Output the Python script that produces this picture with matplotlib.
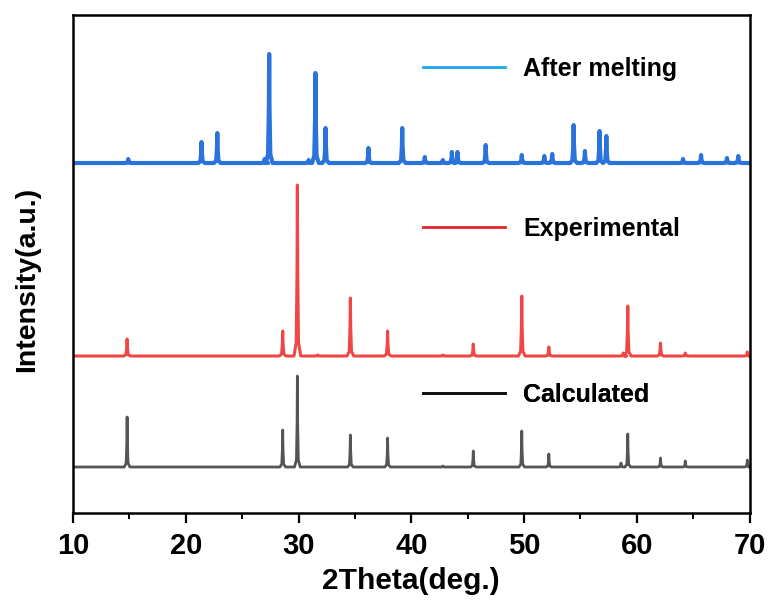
import matplotlib.pyplot as plt
from matplotlib.lines import Line2D
import numpy as np

# peak lists: position (2theta) and height (a.u.)
calc_pos = [14.8, 28.6, 29.9, 34.6, 37.9, 42.8, 45.5, 49.8, 52.2, 58.6, 59.2, 62.1, 64.3, 69.8]
calc_h = [50, 37, 91, 32, 29, 1, 16, 36, 13, 4, 33, 9, 6, 7]

exp_pos = [14.8, 28.6, 29.9, 31.7, 34.6, 37.9, 42.8, 45.5, 49.8, 52.2, 58.8, 59.2, 62.1, 64.3, 69.8]
exp_h = [17, 25, 171, 1, 58, 25, 1, 12, 60, 9, 3, 50, 13, 3, 4]

melt_pos = [14.9, 21.4, 22.8, 27.0, 27.4, 30.9, 31.5, 32.4, 36.2, 39.2, 41.2, 42.8, 43.6, 44.1,
            46.6, 49.8, 51.8, 52.5, 54.4, 55.4, 56.7, 57.3, 64.1, 65.7, 68.0, 69.0]
melt_h = [4, 21, 30, 4, 109, 3, 90, 35, 15, 35, 6, 3, 11, 11,
          18, 8, 7, 9, 38, 12, 32, 27, 4, 8, 5, 7]

offsets = {"calc": 46, "exp": 157, "melt": 350}
xmin, xmax = 10, 70


def profile(pos, h, w=0.3):
    # flat baseline with a narrow spike at each peak
    xs, ys = [xmin], [0]
    for p, hh in sorted(zip(pos, h)):
        xs += [p - w, p - w / 3, p - w / 10, p, p + w / 10, p + w / 3, p + w]
        ys += [0, 0.08 * hh, 0.5 * hh, hh, 0.5 * hh, 0.08 * hh, 0]
    xs.append(xmax)
    ys.append(0)
    return np.array(xs), np.array(ys)


font = ["Liberation Sans", "DejaVu Sans"]

fig = plt.figure(figsize=(7.69, 6.01), dpi=100)
ax = fig.add_axes([0.0949, 0.1464, 0.8798, 0.8286])

x, y = profile(calc_pos, calc_h, 0.25)
ax.plot(x, y + offsets["calc"], color="#555555", lw=2)
x, y = profile(exp_pos, exp_h)
ax.plot(x, y + offsets["exp"], color="#f04646", lw=2.2)
x, y = profile(melt_pos, melt_h)
ax.plot(x, y + offsets["melt"], color="#2a72dc", lw=3)

ax.set_xlim(xmin, xmax)
ax.set_ylim(0, 498)
ax.set_yticks([])
ax.set_xticks(np.arange(10, 71, 10))
ax.set_xticks(np.arange(15, 70, 10), minor=True)
ax.tick_params(axis="x", which="major", direction="out", length=7, width=1.6, pad=7)
ax.tick_params(axis="x", which="minor", direction="out", length=4, width=1.4)
for s in ax.spines.values():
    s.set_linewidth(1.8)

for lab in ax.get_xticklabels():
    lab.set_family(font)
    lab.set_fontsize(21)
    lab.set_fontweight("bold")
ax.set_xlabel("2Theta(deg.)", family=font, fontsize=21.5, fontweight="bold", labelpad=5)
ax.set_ylabel("Intensity(a.u.)", family=font, fontsize=20.5, fontweight="bold")
ax.yaxis.set_label_coords(-0.048, 0.47)

# one legend entry next to each curve
entries = [("After melting", "#1aa8ec", 0.892), ("Experimental", "#e8222a", 0.57),
           ("Calculated", "#111111", 0.237)]
for name, col, yy in entries:
    leg = ax.legend(handles=[Line2D([], [], color=col, lw=2)], labels=[name],
                    loc="center left", bbox_to_anchor=(0.484, yy), frameon=False,
                    handlelength=3.3, handletextpad=0.72,
                    prop={"family": font, "size": 18, "weight": "bold"})
    ax.add_artist(leg)

fig.savefig("out.png", dpi=100)
